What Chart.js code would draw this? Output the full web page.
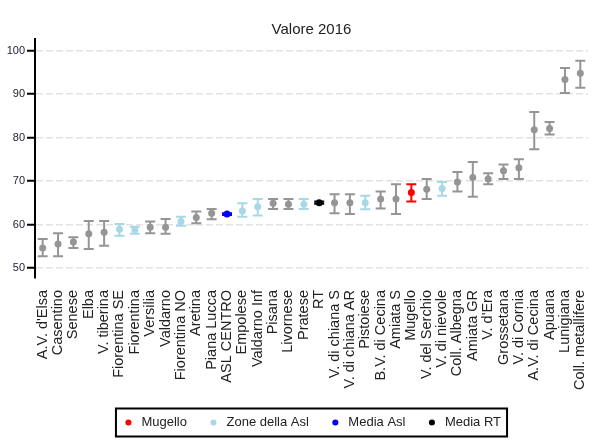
<!DOCTYPE html>
<html>
<head>
<meta charset="utf-8">
<script src="https://cdn.jsdelivr.net/npm/chart.js@4"></script>
<style>
  body { margin: 0; background: #fff; }
</style>
</head>
<body>
<canvas id="myChart" width="602" height="448"></canvas>
<script>
const zone = ["A.V. d'Elsa", "Casentino", "Senese", "Elba", "V. tiberina", "Fiorentina SE", "Fiorentina",
  "Versilia", "Valdarno", "Fiorentina NO", "Aretina", "Piana Lucca", "ASL CENTRO", "Empolese", "Valdarno Inf",
  "Pisana", "Livornese", "Pratese", "RT", "V. di chiana S", "V. di chiana AR", "Pistoiese", "B.V. di Cecina",
  "Amiata S", "Mugello", "V. del Serchio", "V. di nievole", "Coll. Albegna", "Amiata GR", "V. d'Era",
  "Grossetana", "V. di Cornia", "A.V. di Cecina", "Apuana", "Lunigiana", "Coll. metallifere"];

const valore = [54.6, 55.5, 56.0, 57.9, 58.2, 58.9, 58.8, 59.4, 59.4, 60.7, 61.6, 62.6, 62.4, 63.1, 64.1, 64.9,
  64.7, 64.7, 65.0, 65.0, 65.0, 65.0, 65.9, 65.9, 67.4, 68.1, 68.3, 69.8, 70.8, 70.5, 72.4, 73.1, 81.8, 82.1, 93.4, 94.8];
const inferiore = [52.7, 52.7, 54.6, 54.4, 55.1, 57.4, 57.9, 58.0, 57.9, 59.7, 60.3, 61.2, 62.2, 61.8, 62.1, 63.6,
  63.6, 63.6, 64.8, 62.6, 62.4, 63.5, 63.7, 62.4, 65.3, 65.9, 66.6, 67.6, 66.4, 69.3, 70.5, 70.5, 77.3, 80.7, 90.3, 91.5];
const superiore = [56.7, 58.0, 57.1, 60.8, 60.8, 60.1, 59.5, 60.7, 61.3, 61.8, 63.0, 63.6, 62.6, 64.9, 65.9, 65.9,
  65.9, 65.9, 65.3, 67.0, 67.0, 66.6, 67.6, 69.3, 69.3, 70.5, 69.8, 72.1, 74.4, 71.8, 73.8, 75.0, 85.9, 83.6, 96.0, 97.7];

// a quale gruppo appartiene ogni zona
const gruppo = ["altra", "altra", "altra", "altra", "altra", "zona", "zona", "altra", "altra", "zona", "altra",
  "altra", "asl", "zona", "zona", "altra", "altra", "zona", "rt", "altra", "altra", "zona", "altra", "altra",
  "mugello", "altra", "zona", "altra", "altra", "altra", "altra", "altra", "altra", "altra", "altra", "altra"];

const yTicks = [50, 60, 70, 80, 90, 100];

const serie = [
  { key: "altra", label: "Altre", color: "#959595" },
  { key: "mugello", label: "Mugello", color: "#ff0000" },
  { key: "zona", label: "Zone della Asl", color: "#a8d8e6" },
  { key: "asl", label: "Media Asl", color: "#0000ff" },
  { key: "rt", label: "Media RT", color: "#000000" },
];

const datasets = serie.map(s => ({
  label: s.label,
  data: valore.map((v, i) => (gruppo[i] === s.key ? v : null)),
  backgroundColor: s.color,
  borderColor: s.color,
  showLine: false,
  pointStyle: "circle",
  pointRadius: 3.5,
  pointHoverRadius: 3.5,
  pointBorderWidth: 0,
}));

// intervalli di confidenza, disegnati sotto i punti
const errorBars = {
  id: "errorBars",
  beforeDatasetsDraw(chart) {
    const ctx = chart.ctx;
    const y = chart.scales.y;
    ctx.save();
    ctx.lineWidth = 2;
    chart.data.datasets.forEach((ds, d) => {
      const meta = chart.getDatasetMeta(d);
      ds.data.forEach((v, i) => {
        if (v === null) return;
        const x = meta.data[i].x;
        const top = y.getPixelForValue(superiore[i]);
        const bot = y.getPixelForValue(inferiore[i]);
        ctx.strokeStyle = ds.borderColor;
        ctx.beginPath();
        ctx.moveTo(x, top);
        ctx.lineTo(x, bot);
        ctx.moveTo(x - 5, top);
        ctx.lineTo(x + 5, top);
        ctx.moveTo(x - 5, bot);
        ctx.lineTo(x + 5, bot);
        ctx.stroke();
      });
    });
    ctx.restore();
  },
};

// cornice attorno alla legenda
const legendFrame = {
  id: "legendFrame",
  afterDraw(chart) {
    const boxes = chart.legend.legendHitBoxes;
    if (!boxes || !boxes.length) return;
    const first = boxes[0];
    const last = boxes[boxes.length - 1];
    const cy = first.top + first.height / 2;
    const ctx = chart.ctx;
    ctx.save();
    ctx.strokeStyle = "#000";
    ctx.lineWidth = 2;
    ctx.strokeRect(first.left - 6, cy - 14, last.left + last.width - first.left + 12, 28);
    ctx.restore();
  },
};

const config = {
  type: "line",
  data: { labels: zone, datasets },
  options: {
    responsive: false,
    animation: false,
    layout: { padding: { left: 0, right: 14, top: 1, bottom: 9 } },
    scales: {
      x: {
        offset: true,
        grid: { display: false },
        border: { display: false },
        ticks: {
          autoSkip: false,
          maxRotation: 90,
          minRotation: 90,
          padding: 4,
          color: "#222",
          font: { family: "Liberation Sans", size: 14.5 },
        },
        afterFit: (scale) => { scale.height = 118; },
      },
      y: {
        min: 47.7,
        max: 102.7,
        afterBuildTicks: (scale) => { scale.ticks = yTicks.map(v => ({ value: v })); },
        afterFit: (scale) => { scale.width = 35; },
        grid: {
          color: "#e2e2e2",
          lineWidth: 1.5,
          tickColor: "#000",
          tickWidth: 2,
          tickLength: 8,
        },
        border: { display: true, color: "#000", width: 2, dash: [7, 3] },
        ticks: {
          padding: 2,
          color: "#223",
          font: { family: "Liberation Sans", size: 11 },
        },
      },
    },
    plugins: {
      title: {
        display: true,
        text: "Valore 2016",
        fullSize: false,
        color: "#222",
        font: { family: "Liberation Sans", size: 15, weight: "normal" },
        padding: { top: 20, bottom: 0 },
      },
      legend: {
        position: "bottom",
        fullSize: false,
        labels: {
          filter: (item) => item.text !== "Altre",
          usePointStyle: true,
          pointStyle: "circle",
          boxWidth: 13,
          boxHeight: 4.3,
          padding: 20,
          color: "#222",
          font: { family: "Liberation Sans", size: 13 },
        },
      },
      tooltip: { enabled: false },
    },
  },
  plugins: [errorBars, legendFrame],
};

const myChart = new Chart(document.getElementById("myChart"), config);
</script>
</body>
</html>
